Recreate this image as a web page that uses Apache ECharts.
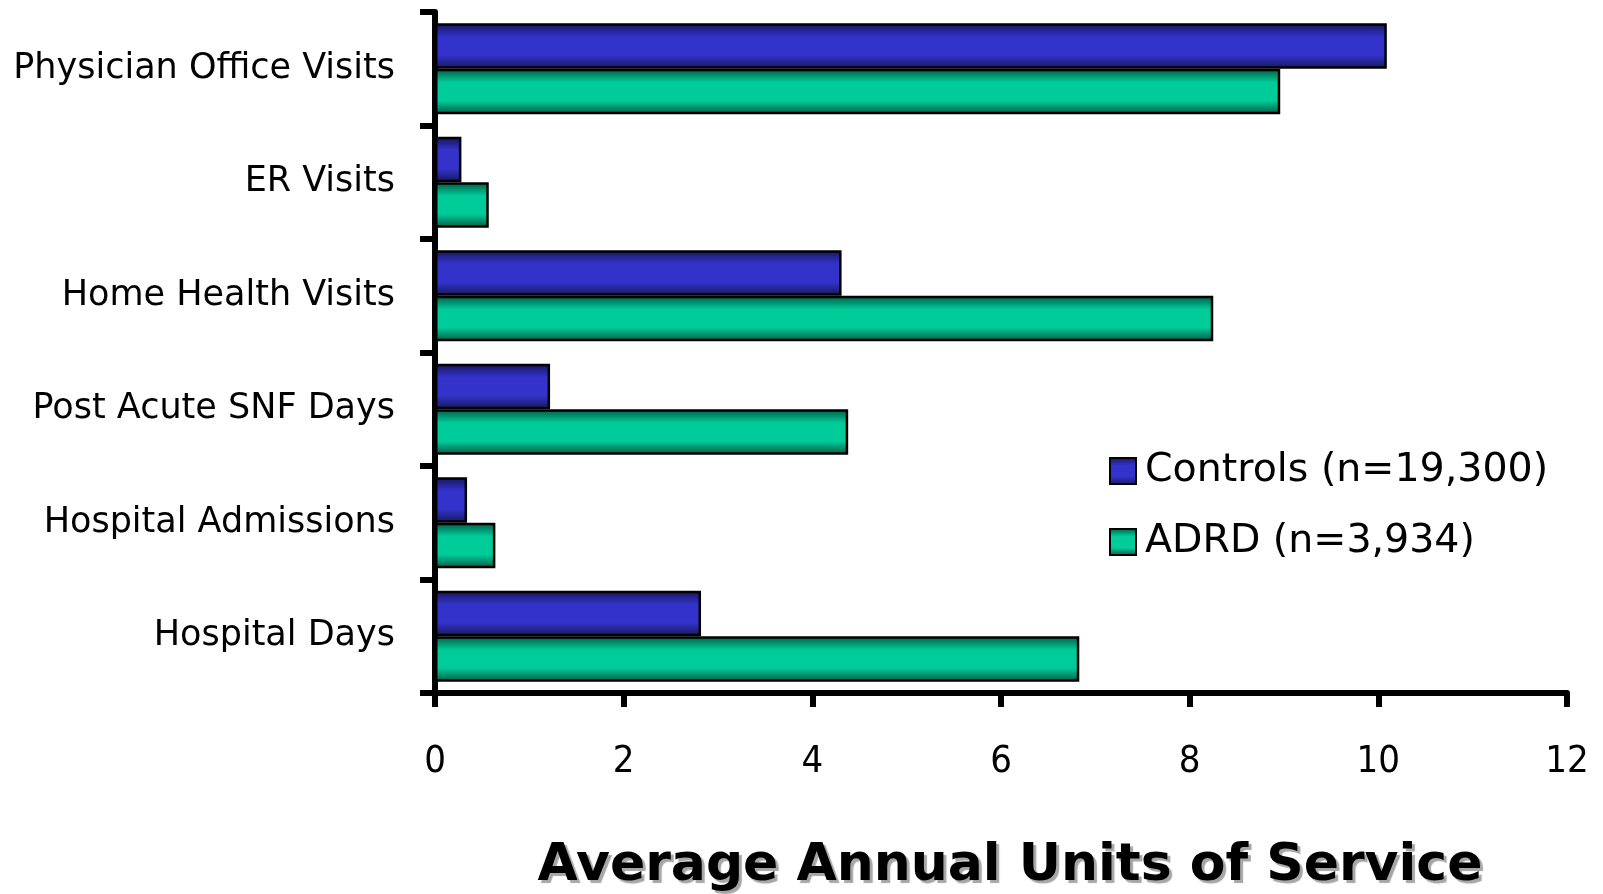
<!DOCTYPE html>
<html><head><meta charset="utf-8">
<script src="https://cdn.jsdelivr.net/npm/echarts@6/dist/echarts.min.js"></script>
<style>html,body{margin:0;padding:0;background:#fff}#c{width:1603px;height:894px}</style>
</head><body><div id="c"></div>
<script>
const categories = ["Physician Office Visits","ER Visits","Home Health Visits","Post Acute SNF Days","Hospital Admissions","Hospital Days"];
const controls = [10.09, 0.28, 4.31, 1.22, 0.34, 2.82];
const adrd = [8.96, 0.57, 8.25, 4.38, 0.64, 6.83];
const seriesNames = ["Controls (n=19,300)", "ADRD (n=3,934)"];
const xTitle = "Average Annual Units of Service";

const FONT = "'DejaVu Sans',sans-serif";
const FONTC = "'DejaVu Sans Condensed','DejaVu Sans',sans-serif";
function grad(edge, mid){
  return new echarts.graphic.LinearGradient(0,0,0,1,[
    {offset:0,color:edge},{offset:0.3,color:mid},{offset:0.7,color:mid},{offset:1,color:edge}]);
}
const blue = grad('#16165a','#3333cc');
const green = grad('#005a45','#00cc99');

const chart = echarts.init(document.getElementById('c'));
chart.setOption({
  animation:false,
  backgroundColor:'#fff',
  grid:{left:435,top:12,right:36,bottom:201,containLabel:false,outerBoundsMode:'none'},
  legend:{
    left:1104, top:446, orient:'vertical', itemGap:31,
    itemWidth:26, itemHeight:26, icon:'rect',
    textStyle:{fontFamily:FONT,fontSize:39.5,color:'#000',padding:[0,0,0,4]},
    data:seriesNames
  },
  xAxis:{
    type:'value', min:0, max:12, interval:2,
    name:xTitle, nameLocation:'middle', nameGap:147,
    nameTextStyle:{fontFamily:FONT,fontSize:52,fontWeight:'bold',color:'#000',padding:[0,0,0,18],
      textShadowColor:'rgba(0,0,0,0.35)',textShadowOffsetX:3,textShadowOffsetY:3,textShadowBlur:1},
    axisLine:{show:true,lineStyle:{color:'#000',width:6}},
    axisTick:{show:true,length:14,lineStyle:{color:'#000',width:6}},
    axisLabel:{fontFamily:FONTC,fontSize:38,color:'#000',margin:50},
    splitLine:{show:false}
  },
  yAxis:{
    type:'category', data:categories, inverse:true,
    axisLine:{show:true,lineStyle:{color:'#000',width:6}},
    axisTick:{show:true,length:15,lineStyle:{color:'#000',width:6}},
    axisLabel:{fontFamily:FONT,fontSize:35,color:'#000',margin:40,padding:[14,0,0,0]}
  },
  series:[
    {name:seriesNames[0],type:'bar',data:controls,barGap:'0%',barCategoryGap:'20%',
     itemStyle:{color:blue,borderColor:'#000',borderWidth:2.5}},
    {name:seriesNames[1],type:'bar',data:adrd,barGap:'0%',barCategoryGap:'20%',
     itemStyle:{color:green,borderColor:'#000',borderWidth:2.5}}
  ]
});
</script></body></html>
